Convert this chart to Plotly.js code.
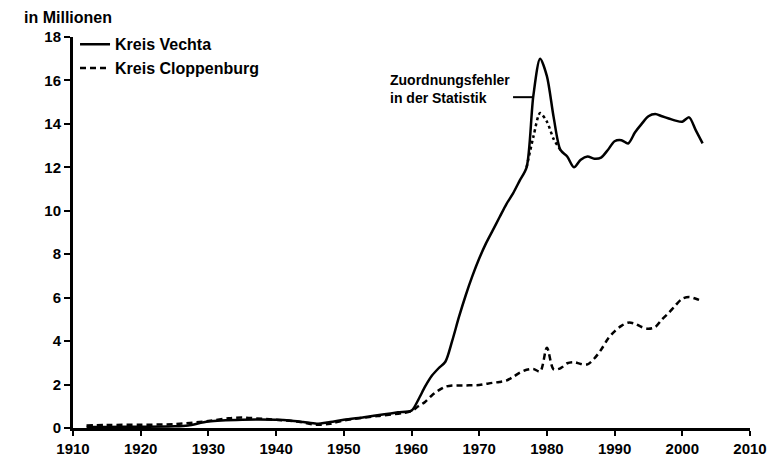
<!DOCTYPE html>
<html>
<head>
<meta charset="utf-8">
<script src="https://cdn.plot.ly/plotly-3.0.1.min.js"></script>
<style>html,body{margin:0;padding:0;background:#fff;}#chart{width:775px;height:459px;}</style>
</head>
<body>
<div id="chart"></div>
<script>
// Kreis Vechta (solid)
const vechtaYears = [1912,1915,1920,1925,1927,1930,1935,1940,1942,1944,1946,1948,1950,1953,1956,1958,1960,1961,1962,1963,1964,1965,1966,1967,1968,1969,1970,1971,1972,1973,1974,1975,1976,1977,1978,1979,1980,1981,1982,1983,1984,1985,1986,1987,1988,1989,1990,1991,1992,1993,1994,1995,1996,1997,1998,1999,2000,2001,2002,2003];
const vechtaValues = [0.05,0.05,0.06,0.08,0.12,0.3,0.38,0.38,0.35,0.28,0.2,0.28,0.38,0.5,0.63,0.72,0.8,1.3,1.9,2.4,2.75,3.05,4.0,5.1,6.1,7.0,7.8,8.5,9.1,9.7,10.3,10.8,11.4,12.0,15.3,17.0,16.2,14.3,12.8,12.5,12.0,12.35,12.5,12.4,12.45,12.8,13.2,13.25,13.1,13.6,14.0,14.35,14.45,14.35,14.25,14.15,14.1,14.3,13.7,13.1];

// Kreis Vechta, values around the assignment error (dashed)
const correctedYears = [1977,1978,1979,1980,1981,1982];
const correctedValues = [12.0,13.4,14.5,14.1,13.3,12.8];

// Kreis Cloppenburg (dashed)
const cloppYears = [1912,1915,1920,1925,1930,1933,1935,1938,1940,1943,1946,1948,1950,1955,1960,1961,1962,1963,1964,1965,1966,1967,1968,1969,1970,1971,1972,1973,1974,1975,1976,1977,1978,1979,1980,1981,1982,1983,1984,1985,1986,1987,1988,1989,1990,1991,1992,1993,1994,1995,1996,1997,1998,1999,2000,2001,2002,2003];
const cloppValues = [0.12,0.14,0.15,0.18,0.32,0.45,0.48,0.42,0.38,0.3,0.15,0.2,0.35,0.55,0.78,1.0,1.2,1.5,1.73,1.9,1.96,1.96,1.96,1.97,1.98,2.03,2.08,2.12,2.18,2.35,2.55,2.68,2.72,2.6,3.7,2.7,2.75,2.98,3.03,2.95,2.93,3.2,3.6,4.1,4.45,4.7,4.85,4.8,4.65,4.57,4.65,5.0,5.3,5.65,5.95,6.03,5.95,5.84];

const xTicks = [1910,1920,1930,1940,1950,1960,1970,1980,1990,2000,2010];
const yTicks = [0,2,4,6,8,10,12,14,16,18];

const F = "Liberation Sans, Arial, sans-serif";

const traces = [
  {x: vechtaYears, y: vechtaValues, type: 'scatter', mode: 'lines', name: 'Kreis Vechta',
   line: {color: '#000', width: 2.5, shape: 'spline', smoothing: 0.8}, legendgroup: 'a'},
  {x: cloppYears, y: cloppValues, type: 'scatter', mode: 'lines', name: 'Kreis Cloppenburg',
   line: {color: '#000', width: 2.5, dash: '6px,4px', shape: 'spline', smoothing: 0.9}, legendgroup: 'b'},
  {x: correctedYears, y: correctedValues, type: 'scatter', mode: 'lines', name: 'korrigiert',
   line: {color: '#000', width: 2.5, dash: '3px,3px', shape: 'spline', smoothing: 0.8}, showlegend: false}
];

const layout = {
  width: 775, height: 459,
  margin: {l: 73, r: 25, t: 37, b: 31},
  paper_bgcolor: '#fff', plot_bgcolor: '#fff',
  font: {family: F, color: '#000', size: 15, weight: 'bold'},
  showlegend: true,
  legend: {x: 0.003, y: 1.025, xanchor: 'left', yanchor: 'top', bgcolor: 'rgba(0,0,0,0)',
           font: {family: F, size: 16, weight: 'bold', color: '#000'}, traceorder: 'grouped', tracegroupgap: 0},
  xaxis: {range: [1910, 2010], tickvals: xTicks, ticktext: xTicks.map(String),
          showline: true, linecolor: '#000', linewidth: 3, ticks: 'outside', ticklen: 5, tickwidth: 2,
          tickcolor: '#000', showgrid: false, zeroline: false, fixedrange: true,
          tickfont: {family: F, size: 15, weight: 'bold', color: '#000'}},
  yaxis: {range: [0, 18], tickvals: yTicks, ticktext: yTicks.map(String),
          showline: true, linecolor: '#000', linewidth: 3, ticks: 'outside', ticklen: 6, tickwidth: 2,
          tickcolor: '#000', showgrid: false, zeroline: false, fixedrange: true,
          tickfont: {family: F, size: 15, weight: 'bold', color: '#000'}},
  annotations: [
    {text: 'in Millionen', xref: 'paper', yref: 'paper', x: -0.075, y: 1.05, xanchor: 'left', yanchor: 'middle',
     showarrow: false, font: {family: F, size: 16, weight: 'bold', color: '#000'}},
    {text: 'Zuordnungsfehler<br>in der Statistik', xref: 'x', yref: 'y', x: 1956.5, y: 15.6, xanchor: 'left', yanchor: 'middle',
     align: 'left', showarrow: false, font: {family: F, size: 14, weight: 'bold', color: '#000'}}
  ],
  shapes: [
    {type: 'line', xref: 'x', yref: 'y', x0: 1975.0, x1: 1977.9, y0: 15.23, y1: 15.23, line: {color: '#000', width: 2}}
  ]
};

Plotly.newPlot('chart', traces, layout, {displayModeBar: false, staticPlot: true});
</script>
</body>
</html>
